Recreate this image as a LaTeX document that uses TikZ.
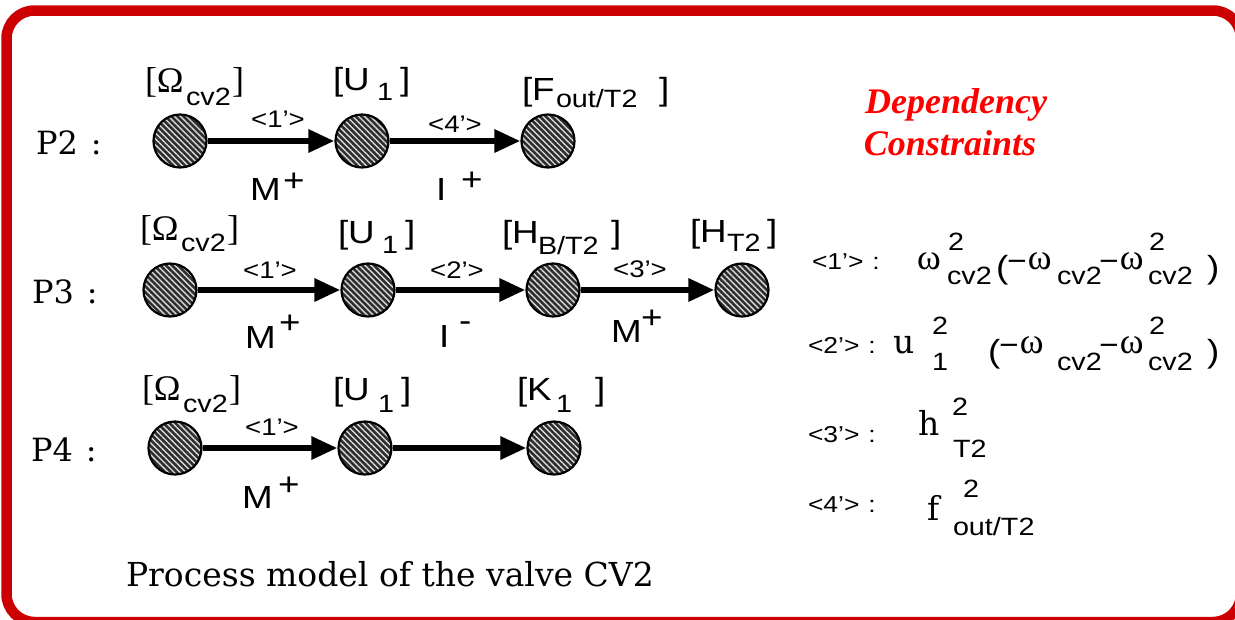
\documentclass[tikz,border=0pt]{standalone}
\usepackage{fontspec}
\setmainfont{DejaVu Serif}
\setsansfont{Liberation Sans}[FakeStretch=1.15]
\newfontfamily\tms{Liberation Serif}
\newfontfamily\djs{DejaVu Sans}
\usetikzlibrary{arrows.meta,patterns.meta}
\definecolor{frame}{RGB}{204,0,0}
\definecolor{depred}{RGB}{255,0,0}
\newcommand\putx[5]{\node[#4] (#1) at (#2,#3) {#5};}
\newcommand\mns{{\djs\fontsize{26}{26}\selectfont −}}
\tikzset{
  ball/.style={circle, minimum size=53pt, inner sep=0pt,
    preaction={fill=black!82},
    preaction={pattern={Lines[angle=-45,distance=4.2pt,line width=1.4pt]}, pattern color=white!85!black},
    draw=black, line width=2.2pt},
  arr/.style={line width=6pt, -{Triangle[length=26pt,width=22pt]}},
  tx/.style={inner sep=0pt, outer sep=0pt, anchor=base west},
  sA/.style={tx, font=\fontsize{32}{32}\selectfont\sffamily},
  sB/.style={tx, font=\fontsize{25}{25}\selectfont\sffamily},
  sC/.style={tx, anchor=base, font=\fontsize{24}{24}\selectfont\sffamily},
  sR/.style={tx, font=\fontsize{25}{25}\selectfont\sffamily},
  sL/.style={tx, font=\fontsize{23}{23}\selectfont\sffamily},
  sP/.style={tx, font=\fontsize{32}{32}\selectfont\sffamily},
  tA/.style={tx, font=\fontsize{36}{36}\selectfont\tms},
  wA/.style={tx, font=\fontsize{36}{36}\selectfont\tms},
  uA/.style={tx, font=\fontsize{33}{33}\selectfont\rmfamily},
  rA/.style={tx, font=\fontsize{32}{32}\selectfont\rmfamily},
  pm/.style={tx, font=\fontsize{33}{33}\selectfont\rmfamily},
  dc/.style={inner sep=0pt, anchor=base, text=depred, font=\fontsize{36}{36}\selectfont\tms\bfseries\itshape},
  border/.style={draw=frame, line width=10.5pt, rounded corners=28pt}
}
\begin{document}
\begin{tikzpicture}[x=1pt,y=-1pt]
\useasboundingbox (0,0) rectangle (1235,619);
\fill[white] (0,0) rectangle (1235,619);
\draw[border] (6.5,10.5) rectangle (1241,622);

% nodes
\node[ball] (a1) at (180,141) {};
\node[ball] (a2) at (362,141) {};
\node[ball] (a3) at (548,141) {};
\node[ball] (b1) at (170,290) {};
\node[ball] (b2) at (368,290) {};
\node[ball] (b3) at (553,290) {};
\node[ball] (b4) at (742,290) {};
\node[ball] (c1) at (175,448) {};
\node[ball] (c2) at (365,448) {};
\node[ball] (c3) at (554,448) {};

\draw[arr] (a1) -- (a2);
\draw[arr] (a2) -- (a3);
\draw[arr] (b1) -- (b2);
\draw[arr] (b2) -- (b3);
\draw[arr] (b3) -- (b4);
\draw[arr] (c1) -- (c2);
\draw[arr] (c2) -- (c3);

% row labels
\putx{pa}{36}{154}{rA}{P2\hspace{13pt}:}
\putx{pb}{32}{303}{rA}{P3\hspace{13pt}:}
\putx{pc}{31}{461}{rA}{P4\hspace{13pt}:}

% P2 node labels
\putx{a1l}{145}{92}{tA}{[Ω}
\putx{a1s}{186}{105}{sB}{cv2}
\putx{a1r}{232}{92}{tA}{]}
\putx{a2l}{333}{90}{sA}{[U}
\putx{a2s}{377}{100}{sB}{1}
\putx{a2r}{400}{90}{sA}{]}
\putx{a3l}{522}{100}{sA}{[F}
\putx{a3s}{556}{107}{sB}{out/T2}
\putx{a3r}{659}{100}{sA}{]}

% P3 node labels
\putx{b1l}{140}{240}{tA}{[Ω}
\putx{b1s}{181}{251}{sB}{cv2}
\putx{b1r}{227}{240}{tA}{]}
\putx{b2l}{338}{243}{sA}{[U}
\putx{b2s}{382}{253}{sB}{1}
\putx{b2r}{405}{243}{sA}{]}
\putx{b3l}{502}{243}{sA}{[H}
\putx{b3s}{538}{254}{sB}{B/T2}
\putx{b3r}{611}{243}{sA}{]}
\putx{b4l}{690}{242}{sA}{[H}
\putx{b4s}{727}{251}{sB}{T2}
\putx{b4r}{767}{242}{sA}{]}

% P4 node labels
\putx{c1l}{142}{400}{tA}{[Ω}
\putx{c1s}{183}{412}{sB}{cv2}
\putx{c1r}{229}{400}{tA}{]}
\putx{c2l}{333}{400}{sA}{[U}
\putx{c2s}{378}{412}{sB}{1}
\putx{c2r}{401}{400}{sA}{]}
\putx{c3l}{517}{400}{sA}{[K}
\putx{c3s}{556}{412}{sB}{1}
\putx{c3r}{595}{400}{sA}{]}

% arrow labels
\putx{e1}{278}{127}{sC}{<1’>}
\putx{e2}{455}{132}{sC}{<4’>}
\putx{e3}{270}{278}{sC}{<1’>}
\putx{e4}{457}{278}{sC}{<2’>}
\putx{e5}{640}{277}{sC}{<3’>}
\putx{e6}{272}{435}{sC}{<1’>}

% polarity labels
\putx{m1}{250}{200}{sA}{M}
\putx{m1p}{283}{191}{sA}{+}
\putx{i1}{436}{200}{sA}{I}
\putx{i1p}{461}{190}{sA}{+}
\putx{m2}{245}{348}{sA}{M}
\putx{m2p}{279}{333}{sA}{+}
\putx{i2}{439}{347}{sA}{I}
\putx{i2p}{459}{331}{sA}{-}
\putx{m3}{611}{342}{sA}{M}
\putx{m3p}{641}{328}{sA}{+}
\putx{m4}{242}{508}{sA}{M}
\putx{m4p}{278}{495}{sA}{+}

% dependency constraints title
\node[dc] (dep1) at (956,113) {Dependency};
\node[dc] (dep2) at (950,155) {Constraints};

% constraint 1
\putx{k1}{812}{269}{sL}{<1’>\hspace{9pt}:}
\putx{k1w}{917}{269}{wA}{ω}
\putx{k1a}{948}{250}{sR}{2}
\putx{k1b}{947}{284}{sR}{cv2}
\putx{k1c}{996}{278}{sP}{(}
\putx{k1d}{1006}{269}{wA}{\mns ω}
\putx{k1e}{1057}{284}{sR}{cv2}
\putx{k1f}{1098}{269}{wA}{\mns ω}
\putx{k1g}{1149}{250}{sR}{2}
\putx{k1h}{1148}{284}{sR}{cv2}
\putx{k1i}{1207}{278}{sP}{)}

% constraint 2
\putx{k2}{808}{353}{sL}{<2’>\hspace{9pt}:}
\putx{k2u}{893}{353}{uA}{u}
\putx{k2a}{932}{334}{sR}{2}
\putx{k2b}{932}{370}{sR}{1}
\putx{k2c}{988}{362}{sP}{(}
\putx{k2d}{998}{353}{wA}{\mns ω}
\putx{k2e}{1057}{370}{sR}{cv2}
\putx{k2f}{1098}{353}{wA}{\mns ω}
\putx{k2g}{1149}{334}{sR}{2}
\putx{k2h}{1148}{370}{sR}{cv2}
\putx{k2i}{1207}{362}{sP}{)}

% constraint 3
\putx{k3}{808}{442}{sL}{<3’>\hspace{9pt}:}
\putx{k3h}{918}{435}{uA}{h}
\putx{k3a}{952}{415}{sR}{2}
\putx{k3b}{953}{457}{sR}{T2}

% constraint 4
\putx{k4}{808}{512}{sL}{<4’>\hspace{9pt}:}
\putx{k4f}{927}{520}{uA}{f}
\putx{k4a}{963}{497}{sR}{2}
\putx{k4b}{953}{535}{sR}{out/T2}

% caption
\putx{cap}{126}{586}{pm}{Process model of the valve CV2}
\end{tikzpicture}
\end{document}
